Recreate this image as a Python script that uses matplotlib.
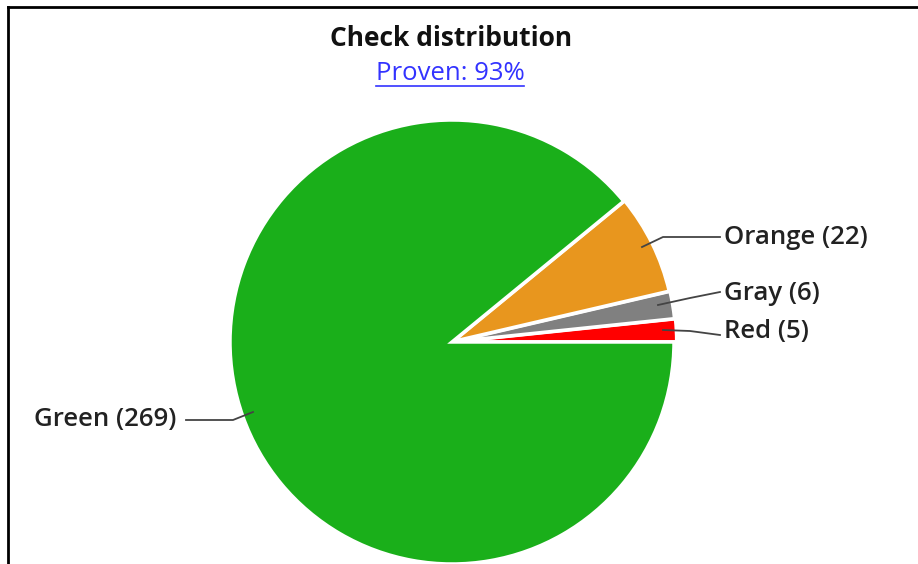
import matplotlib.pyplot as plt
from matplotlib.lines import Line2D

labels = ["Red", "Gray", "Orange", "Green"]
counts = [5, 6, 22, 269]
colors = ["#ff0000", "#808080", "#e8961e", "#1aaf1a"]
title = "Check distribution"
subtitle = "Proven: 93%"

W, H = 918, 564
fig = plt.figure(figsize=(W / 100, H / 100), dpi=100)
plt.rcParams['font.family'] = ['Open Sans', 'DejaVu Sans']

# pie centre (452, 342) px, radius 222 px
cx, cy, r = 452, 342, 222
ax = fig.add_axes([(cx - r) / W, (H - cy - r) / H, 2 * r / W, 2 * r / H])
wedges, _ = ax.pie(counts, colors=colors, startangle=0, counterclock=True,
                   explode=[0.012, 0.008, 0.005, 0],
                   wedgeprops=dict(edgecolor="white", linewidth=2.5))
ax.set_xlim(-1, 1)
ax.set_ylim(-1, 1)
ax.set_aspect("equal")
ax.axis("off")

def px(x, y):
    return (x / W, 1 - y / H)

# label lines: anchor in wedge, elbow, end; text position
label_spots = {
    "Orange": [(642, 247), (663, 237), (720, 237), (724, 237)],
    "Gray": [(658, 305), (690, 298), (720, 292), (724, 294)],
    "Red": [(663, 330), (690, 331), (720, 335), (724, 332)],
    "Green": [(253, 412), (233, 420), (186, 420), (176, 419)],
}
for lab, n in zip(labels, counts):
    a, b, c, t = label_spots[lab]
    xs, ys = zip(*[px(*p) for p in (a, b, c)])
    fig.add_artist(Line2D(xs, ys, color="#444444", lw=1.3))
    ha = "left" if lab != "Green" else "right"
    fig.text(*px(*t), f"{lab} ({n})", ha=ha, va="center", fontsize=18.5,
             fontweight="semibold", color="#222222")

fig.text(*px(451, 38), title, ha="center", va="center", fontsize=19,
         fontweight="bold", color="#111111")
sub = fig.text(*px(450, 74), subtitle, ha="center", va="center", fontsize=18.5,
               color="#3333ff")
fig.canvas.draw()
bb = sub.get_window_extent()
y_u = bb.y0 + 1
fig.add_artist(Line2D([bb.x0 / W, bb.x1 / W], [y_u / H, y_u / H],
                      color="#3333ff", lw=1.2))

# frame lines
fig.add_artist(Line2D([8 / W, 8 / W], [0, 1 - 7 / H], color="black", lw=2))
fig.add_artist(Line2D([8 / W, 1], [1 - 7 / H, 1 - 7 / H], color="black", lw=2))

fig.savefig("out.png", dpi=100)
